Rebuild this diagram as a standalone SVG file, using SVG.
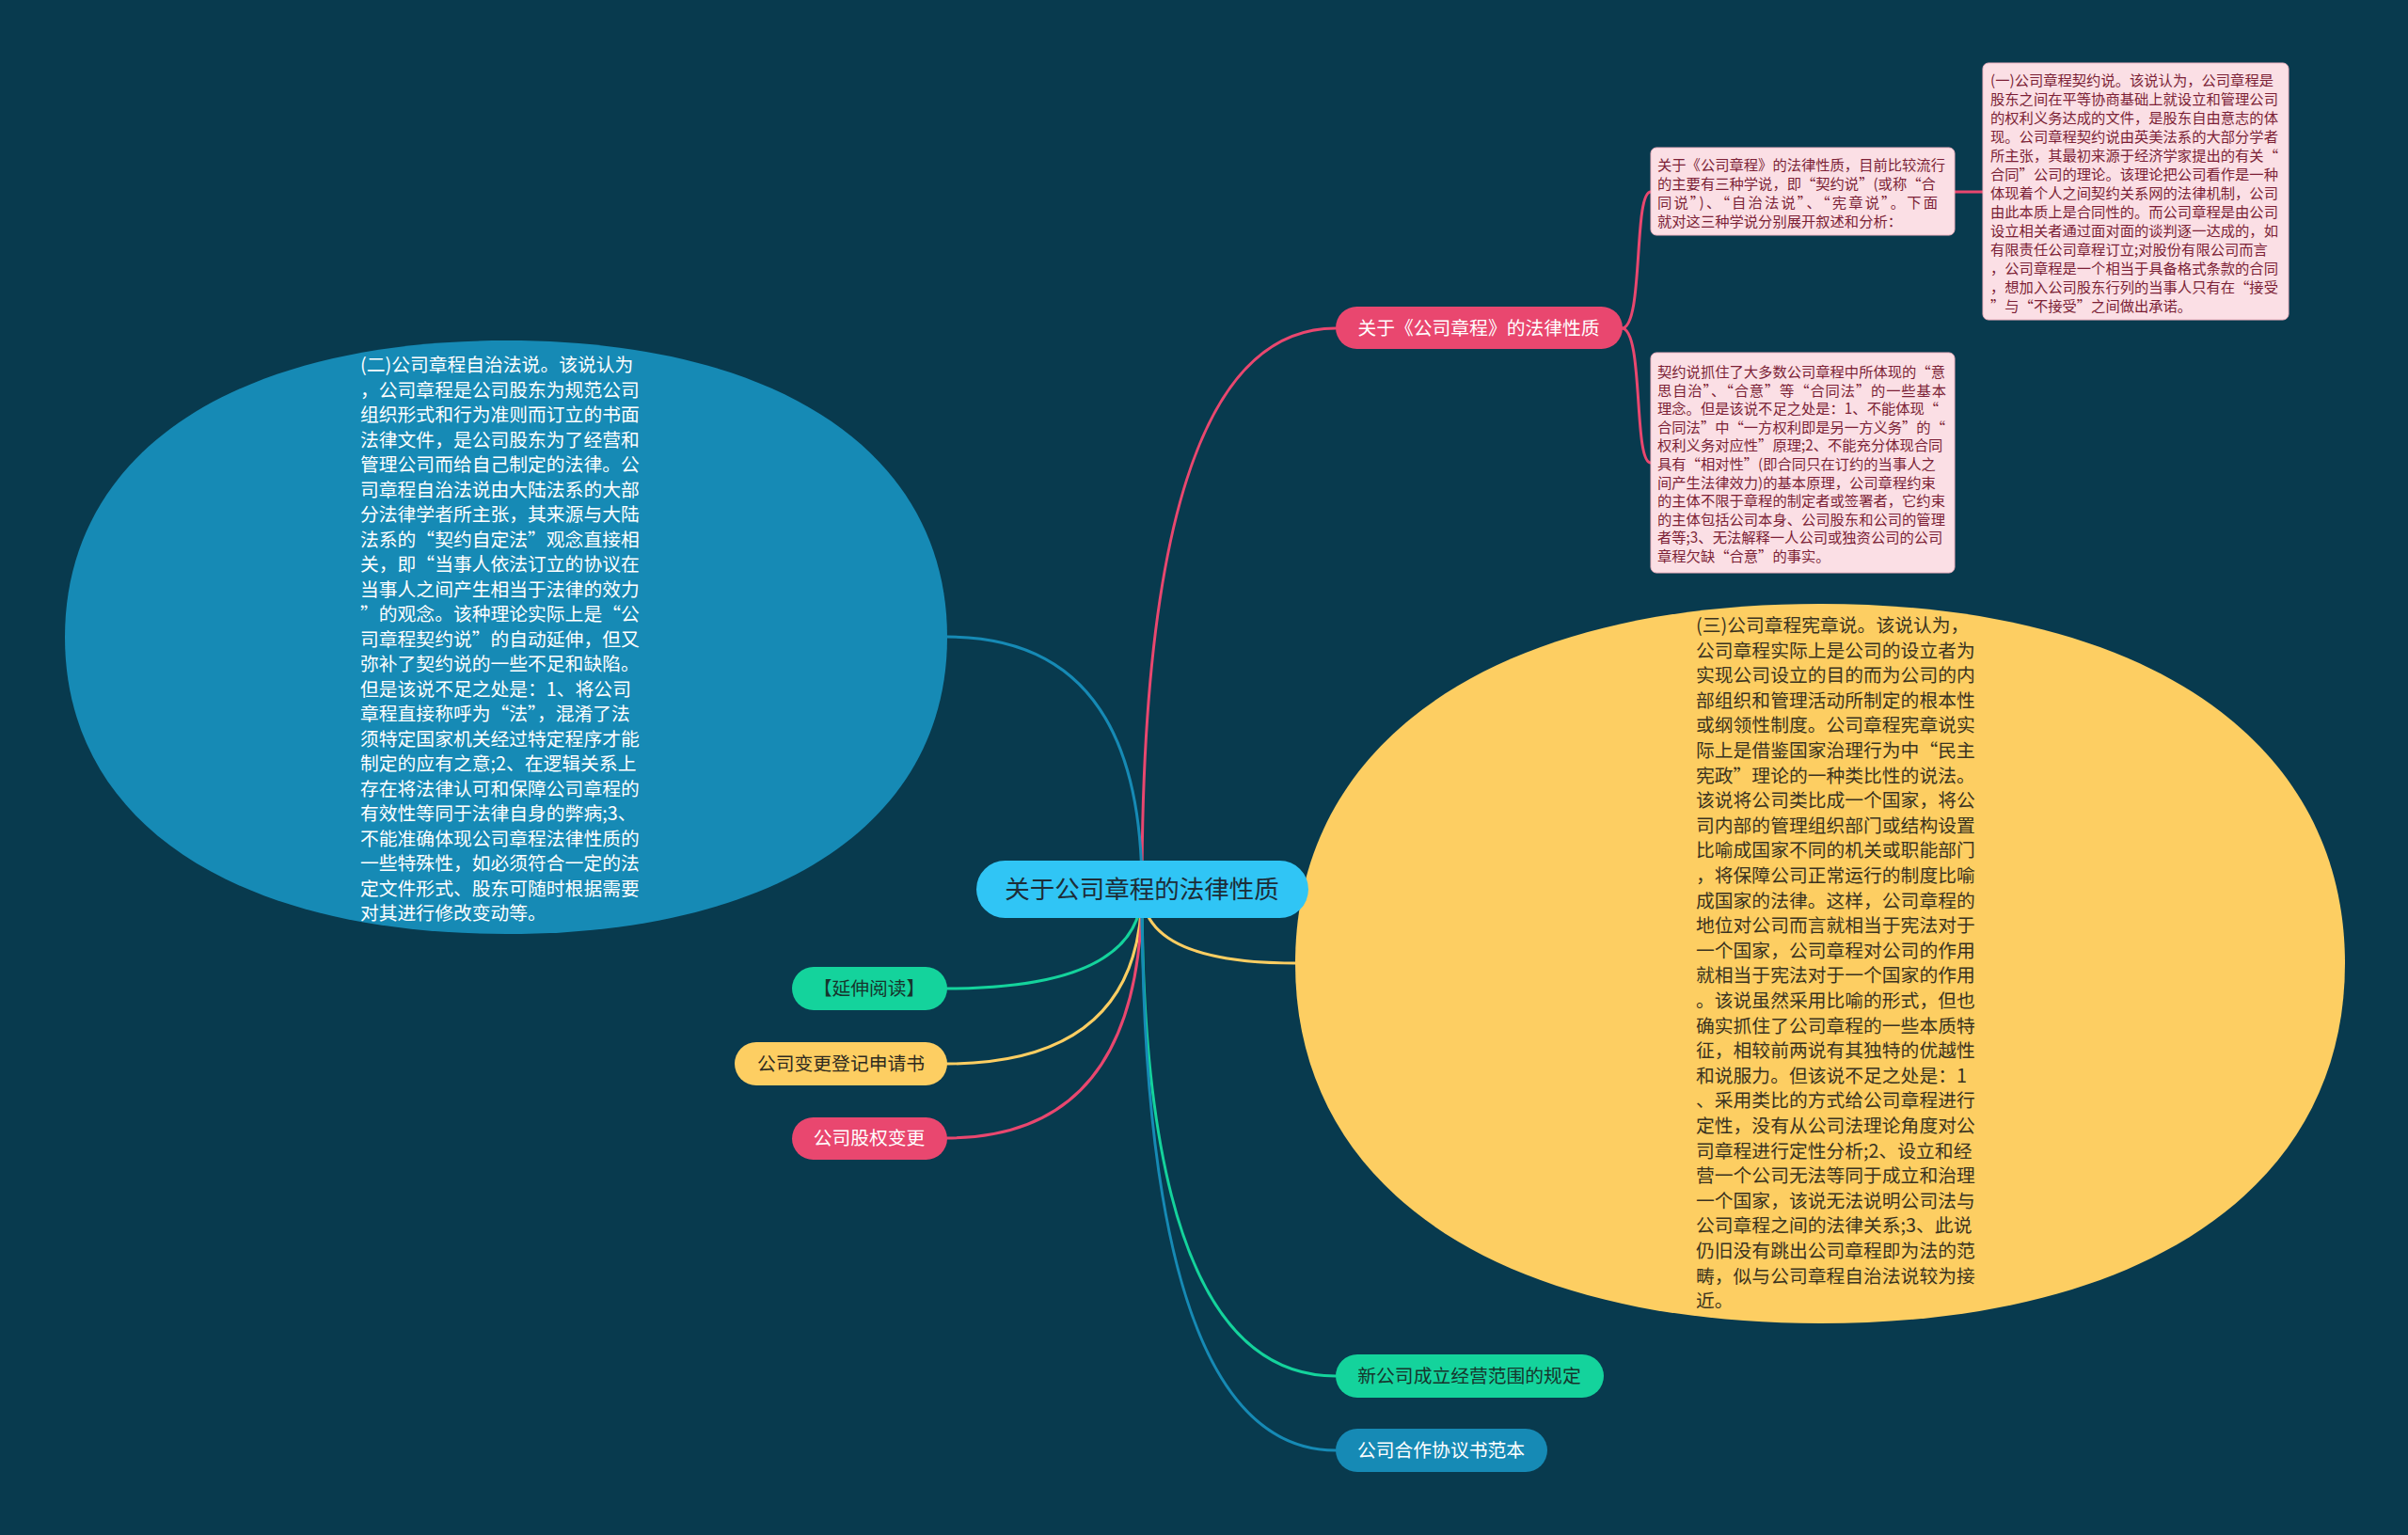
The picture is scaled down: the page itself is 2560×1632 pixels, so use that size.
<svg xmlns="http://www.w3.org/2000/svg" width="2560" height="1632" viewBox="0 0 2560 1632">
<style>
text{font-family:"Noto Sans CJK SC","Microsoft YaHei","Noto Sans",sans-serif;}
.c{fill:none;stroke-width:3;stroke-linecap:round}
.t20{font-size:19.8px}
.t15{font-size:15.3px;fill:#7c1f36}
.pbox{fill:#fbdfe5;stroke:#efb3c1;stroke-width:1}
.mid{text-anchor:middle}
</style>
<rect width="2560" height="1632" fill="#083a4e"/>
<g id="connectors">
<path class="c" stroke="#e9476f" d="M1214,946 Q1214,349 1420,349"/>
<path class="c" stroke="#168ab5" d="M1214,946 Q1214,677 1007,677"/>
<path class="c" stroke="#fdce62" d="M1214,946 Q1214,1024 1377,1024"/>
<path class="c" stroke="#14d39c" d="M1214,946 Q1214,1051 1006,1051"/>
<path class="c" stroke="#fdce62" d="M1214,946 Q1214,1131 1006,1131"/>
<path class="c" stroke="#e9476f" d="M1214,946 Q1214,1210 1006,1210"/>
<path class="c" stroke="#14d39c" d="M1214,946 Q1214,1463 1420,1463"/>
<path class="c" stroke="#168ab5" d="M1214,946 Q1214,1542 1420,1542"/>
<path class="c" stroke="#e9476f" stroke-width="2" d="M1724,349 C1748,349 1736,204 1755,204"/>
<path class="c" stroke="#e9476f" stroke-width="2" d="M1724,349 C1748,349 1736,492 1755,492"/>
<path class="c" stroke="#e9476f" stroke-width="2" d="M2078,204 L2108,204"/>
</g>
<g id="node-left-ellipse">
<path fill="#168ab5" d="M1007,677.5 C1007,873.1 828.8,993 538,993 C247.2,993 69,873.1 69,677.5 C69,481.9 247.2,362 538,362 C828.8,362 1007,481.9 1007,677.5 Z"/>
<text class="t20" fill="#ffffff">
<tspan x="383" y="395">(二)公司章程自治法说。该说认为</tspan>
<tspan x="383" y="421.5">，公司章程是公司股东为规范公司</tspan>
<tspan x="383" y="448">组织形式和行为准则而订立的书面</tspan>
<tspan x="383" y="474.5">法律文件，是公司股东为了经营和</tspan>
<tspan x="383" y="501">管理公司而给自己制定的法律。公</tspan>
<tspan x="383" y="527.5">司章程自治法说由大陆法系的大部</tspan>
<tspan x="383" y="554">分法律学者所主张，其来源与大陆</tspan>
<tspan x="383" y="580.5">法系的“契约自定法”观念直接相</tspan>
<tspan x="383" y="607">关，即“当事人依法订立的协议在</tspan>
<tspan x="383" y="633.5">当事人之间产生相当于法律的效力</tspan>
<tspan x="383" y="660">”的观念。该种理论实际上是“公</tspan>
<tspan x="383" y="686.5">司章程契约说”的自动延伸，但又</tspan>
<tspan x="383" y="713">弥补了契约说的一些不足和缺陷。</tspan>
<tspan x="383" y="739.5">但是该说不足之处是：1、将公司</tspan>
<tspan x="383" y="766">章程直接称呼为“法”，混淆了法</tspan>
<tspan x="383" y="792.5">须特定国家机关经过特定程序才能</tspan>
<tspan x="383" y="819">制定的应有之意;2、在逻辑关系上</tspan>
<tspan x="383" y="845.5">存在将法律认可和保障公司章程的</tspan>
<tspan x="383" y="872">有效性等同于法律自身的弊病;3、</tspan>
<tspan x="383" y="898.5">不能准确体现公司章程法律性质的</tspan>
<tspan x="383" y="925">一些特殊性，如必须符合一定的法</tspan>
<tspan x="383" y="951.5">定文件形式、股东可随时根据需要</tspan>
<tspan x="383" y="978">对其进行修改变动等。</tspan>
</text>
</g>
<g id="node-right-ellipse">
<path fill="#fdce62" d="M2493,1024.5 C2493,1261.7 2281,1407 1935,1407 C1589,1407 1377,1261.7 1377,1024.5 C1377,787.3 1589,642 1935,642 C2281,642 2493,787.3 2493,1024.5 Z"/>
<text class="t20" fill="#3a3320">
<tspan x="1803" y="672">(三)公司章程宪章说。该说认为，</tspan>
<tspan x="1803" y="698.6">公司章程实际上是公司的设立者为</tspan>
<tspan x="1803" y="725.2">实现公司设立的目的而为公司的内</tspan>
<tspan x="1803" y="751.8">部组织和管理活动所制定的根本性</tspan>
<tspan x="1803" y="778.4">或纲领性制度。公司章程宪章说实</tspan>
<tspan x="1803" y="805">际上是借鉴国家治理行为中“民主</tspan>
<tspan x="1803" y="831.6">宪政”理论的一种类比性的说法。</tspan>
<tspan x="1803" y="858.2">该说将公司类比成一个国家，将公</tspan>
<tspan x="1803" y="884.8">司内部的管理组织部门或结构设置</tspan>
<tspan x="1803" y="911.4">比喻成国家不同的机关或职能部门</tspan>
<tspan x="1803" y="938">，将保障公司正常运行的制度比喻</tspan>
<tspan x="1803" y="964.6">成国家的法律。这样，公司章程的</tspan>
<tspan x="1803" y="991.2">地位对公司而言就相当于宪法对于</tspan>
<tspan x="1803" y="1017.8">一个国家，公司章程对公司的作用</tspan>
<tspan x="1803" y="1044.4">就相当于宪法对于一个国家的作用</tspan>
<tspan x="1803" y="1071">。该说虽然采用比喻的形式，但也</tspan>
<tspan x="1803" y="1097.6">确实抓住了公司章程的一些本质特</tspan>
<tspan x="1803" y="1124.2">征，相较前两说有其独特的优越性</tspan>
<tspan x="1803" y="1150.8">和说服力。但该说不足之处是：1</tspan>
<tspan x="1803" y="1177.4">、采用类比的方式给公司章程进行</tspan>
<tspan x="1803" y="1204">定性，没有从公司法理论角度对公</tspan>
<tspan x="1803" y="1230.6">司章程进行定性分析;2、设立和经</tspan>
<tspan x="1803" y="1257.2">营一个公司无法等同于成立和治理</tspan>
<tspan x="1803" y="1283.8">一个国家，该说无法说明公司法与</tspan>
<tspan x="1803" y="1310.4">公司章程之间的法律关系;3、此说</tspan>
<tspan x="1803" y="1337">仍旧没有跳出公司章程即为法的范</tspan>
<tspan x="1803" y="1363.6">畴，似与公司章程自治法说较为接</tspan>
<tspan x="1803" y="1390.2">近。</tspan>
</text>
</g>
<g id="node-center">
<rect x="1038" y="915" width="353" height="61" rx="30.5" fill="#30c5f5"/>
<text class="mid" x="1214" y="955" font-size="26.5" fill="#1d2d38">关于公司章程的法律性质</text>
</g>
<g id="node-pink">
<rect x="1420" y="326" width="305" height="45" rx="22.5" fill="#e9476f"/>
<text class="mid t20" x="1572" y="356" fill="#ffffff">关于《公司章程》的法律性质</text>
</g>
<g id="node-box1">
<rect class="pbox" x="1755" y="157" width="323" height="93" rx="6"/>
<text class="t15">
<tspan x="1762" y="181">关于《公司章程》的法律性质，目前比较流行</tspan>
<tspan x="1762" y="201">的主要有三种学说，即“契约说”(或称“合</tspan>
<tspan x="1762" y="221" textLength="298" lengthAdjust="spacing">同说”)、“自治法说”、“宪章说”。下面</tspan>
<tspan x="1762" y="241">就对这三种学说分别展开叙述和分析：</tspan>
</text>
</g>
<g id="node-box2">
<rect class="pbox" x="1755" y="375" width="323" height="234" rx="6"/>
<text class="t15">
<tspan x="1762" y="401">契约说抓住了大多数公司章程中所体现的“意</tspan>
<tspan x="1762" y="420.6" textLength="307" lengthAdjust="spacing">思自治”、“合意”等“合同法”的一些基本</tspan>
<tspan x="1762" y="440.2">理念。但是该说不足之处是：1、不能体现“</tspan>
<tspan x="1762" y="459.8">合同法”中“一方权利即是另一方义务”的“</tspan>
<tspan x="1762" y="479.4">权利义务对应性”原理;2、不能充分体现合同</tspan>
<tspan x="1762" y="499">具有“相对性”(即合同只在订约的当事人之</tspan>
<tspan x="1762" y="518.6">间产生法律效力)的基本原理，公司章程约束</tspan>
<tspan x="1762" y="538.2">的主体不限于章程的制定者或签署者，它约束</tspan>
<tspan x="1762" y="557.8">的主体包括公司本身、公司股东和公司的管理</tspan>
<tspan x="1762" y="577.4">者等;3、无法解释一人公司或独资公司的公司</tspan>
<tspan x="1762" y="597">章程欠缺“合意”的事实。</tspan>
</text>
</g>
<g id="node-box3">
<rect class="pbox" x="2108" y="67" width="325" height="273" rx="6"/>
<text class="t15">
<tspan x="2116" y="91">(一)公司章程契约说。该说认为，公司章程是</tspan>
<tspan x="2116" y="111">股东之间在平等协商基础上就设立和管理公司</tspan>
<tspan x="2116" y="131">的权利义务达成的文件，是股东自由意志的体</tspan>
<tspan x="2116" y="151">现。公司章程契约说由英美法系的大部分学者</tspan>
<tspan x="2116" y="171">所主张，其最初来源于经济学家提出的有关“</tspan>
<tspan x="2116" y="191">合同”公司的理论。该理论把公司看作是一种</tspan>
<tspan x="2116" y="211">体现着个人之间契约关系网的法律机制，公司</tspan>
<tspan x="2116" y="231">由此本质上是合同性的。而公司章程是由公司</tspan>
<tspan x="2116" y="251">设立相关者通过面对面的谈判逐一达成的，如</tspan>
<tspan x="2116" y="271">有限责任公司章程订立;对股份有限公司而言</tspan>
<tspan x="2116" y="291">，公司章程是一个相当于具备格式条款的合同</tspan>
<tspan x="2116" y="311">，想加入公司股东行列的当事人只有在“接受</tspan>
<tspan x="2116" y="331">”与“不接受”之间做出承诺。</tspan>
</text>
</g>
<g id="node-yanshen">
<rect x="842" y="1028" width="165" height="46" rx="23" fill="#14d39c"/>
<text class="mid t20" x="924" y="1058" fill="#16352c">【延伸阅读】</text>
</g>
<g id="node-biangeng">
<rect x="781" y="1108" width="226" height="46" rx="23" fill="#fdce62"/>
<text class="mid t20" x="894" y="1138" fill="#2e2a1e">公司变更登记申请书</text>
</g>
<g id="node-guquan">
<rect x="842" y="1188" width="165" height="45" rx="22.5" fill="#e9476f"/>
<text class="mid t20" x="924" y="1217" fill="#ffffff">公司股权变更</text>
</g>
<g id="node-xingongsi">
<rect x="1420" y="1440" width="285" height="46" rx="23" fill="#14d39c"/>
<text class="mid t20" x="1562" y="1470" fill="#16352c">新公司成立经营范围的规定</text>
</g>
<g id="node-hezuo">
<rect x="1420" y="1519" width="225" height="46" rx="23" fill="#168ab5"/>
<text class="mid t20" x="1532" y="1549" fill="#ffffff">公司合作协议书范本</text>
</g>
</svg>
